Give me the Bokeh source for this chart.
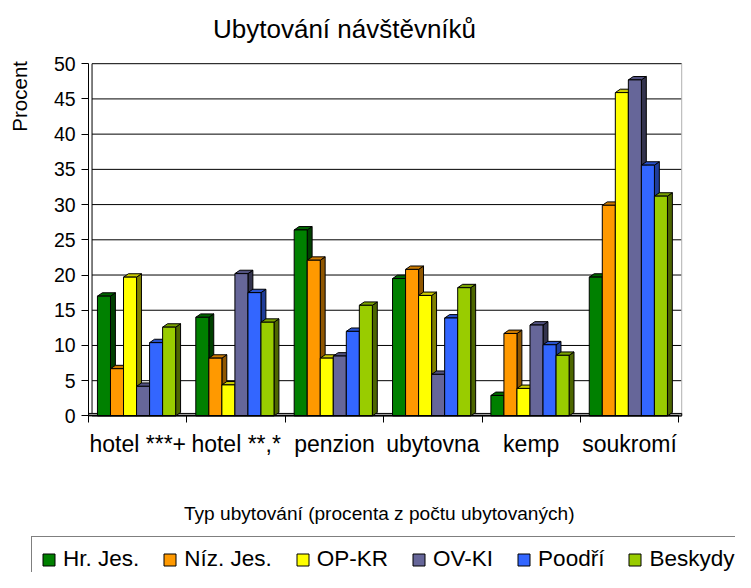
import numpy as np
from bokeh.plotting import figure
from bokeh.models import (Range1d, FixedTicker, Label, Legend, LegendItem, LinearAxis)
from bokeh.embed import file_html
from bokeh.resources import INLINE

categories = ["hotel ***+", "hotel **,*", "penzion", "ubytovna", "kemp", "soukromí"]
series_names = ["Hr. Jes.", "Níz. Jes.", "OP-KR", "OV-KI", "Poodří", "Beskydy"]

hr_jes = [17.0, 14.0, 26.4, 19.5, 2.9, 19.7]
niz_jes = [6.7, 8.2, 22.1, 20.8, 11.7, 29.9]
op_kr = [19.7, 4.4, 8.2, 17.1, 3.9, 45.9]
ov_ki = [4.2, 20.2, 8.5, 5.9, 12.9, 47.7]
poodri = [10.4, 17.5, 12.0, 13.9, 10.1, 35.6]
beskydy = [12.6, 13.3, 15.7, 18.2, 8.6, 31.2]
series_values = [hr_jes, niz_jes, op_kr, ov_ki, poodri, beskydy]

front_colors = ["#008000", "#FF9900", "#FFFF00", "#666699", "#3366FF", "#99CC00"]
top_colors = ["#006600", "#CC7A00", "#CCCC00", "#525280", "#2952CC", "#7AA300"]
side_colors = ["#004000", "#8F5600", "#808000", "#33334D", "#1F3D99", "#4D6600"]

y_ticks = list(range(0, 51, 5))
y_max = 50

FONT = "Liberation Sans"
W, H = 735, 572
PX_X = 98.36   # pixels per category
PX_Y = 7.044   # pixels per percent
LEFT, BASE = 88.1, 415.4  # canvas position of the plot origin

p = figure(width=W, height=H, output_backend="svg", toolbar_location=None, title=None,
           x_range=Range1d(-LEFT / PX_X, (W - LEFT) / PX_X),
           y_range=Range1d(-(H - BASE) / PX_Y, BASE / PX_Y),
           min_border=0, min_border_left=0, min_border_right=0, min_border_top=0, min_border_bottom=0,
           x_axis_location=None, y_axis_location=None, tools="")
p.outline_line_color = None
p.background_fill_color = "white"
p.border_fill_color = "white"
p.grid.visible = False

n = len(categories)
x_end = n + 0.03

# back-wall gridlines and wall edges
p.segment(x0=0.035, y0=y_ticks, x1=x_end, y1=y_ticks, line_color="black", line_width=1)
p.segment(x0=[x_end], y0=[0], x1=[x_end], y1=[y_max], line_color="#b0b0b0", line_width=1)
p.segment(x0=[0.035], y0=[0.35], x1=[0.035], y1=[y_max], line_color="black", line_width=1)

# floor of the 3D plot
p.quad(left=[0.0], right=[x_end], bottom=[0.0], top=[0.35], fill_color="#9a9a9a", line_color="black", line_width=1)

# bars
bar_w = 0.1325
start = 0.09
dx = 0.05
dy = 0.48
legend_items = []
for i, (name, vals) in enumerate(zip(series_names, series_values)):
    xl = np.array([j + start + i * bar_w for j in range(n)])
    xr = xl + bar_w
    v = np.array(vals)
    side_xs = [[a, a + dx, a + dx, a] for a in xr]
    side_ys = [[0, dy, t + dy, t] for t in v]
    top_xs = [[a, a + dx, b + dx, b] for a, b in zip(xl, xr)]
    top_ys = [[t, t + dy, t + dy, t] for t in v]
    p.patches(side_xs, side_ys, fill_color=side_colors[i], line_color="black", line_width=1)
    p.patches(top_xs, top_ys, fill_color=top_colors[i], line_color="black", line_width=1)
    r = p.vbar(x=(xl + xr) / 2, top=v, bottom=0, width=bar_w,
               fill_color=front_colors[i], line_color="black", line_width=1)
    legend_items.append(LegendItem(label=name, renderers=[r]))

# y axis at x = 0
yaxis = LinearAxis(fixed_location=0, bounds=(0, y_max), ticker=FixedTicker(ticks=y_ticks))
yaxis.major_tick_out = 7
yaxis.major_tick_in = 0
yaxis.minor_tick_out = 0
yaxis.minor_tick_in = 0
yaxis.major_label_standoff = 6
yaxis.major_label_text_font = FONT
yaxis.major_label_text_font_size = "19.5px"
yaxis.major_label_text_color = "black"
yaxis.axis_line_color = "black"
yaxis.major_tick_line_color = "black"
p.add_layout(yaxis, "left")

# x axis at y = 0: labels at category centres, tick marks at boundaries
centers = [i + 0.5 for i in range(n)]
xaxis = LinearAxis(fixed_location=0, bounds=(0, n),
                   ticker=FixedTicker(ticks=centers, minor_ticks=list(range(n + 1))))
xaxis.major_label_overrides = {c: lab for c, lab in zip(centers, categories)}
xaxis.major_tick_out = 0
xaxis.major_tick_in = 0
xaxis.minor_tick_out = 7
xaxis.minor_tick_in = 0
xaxis.minor_tick_line_color = "black"
xaxis.major_label_standoff = 8
xaxis.major_label_text_font = FONT
xaxis.major_label_text_font_size = "23px"
xaxis.major_label_text_color = "black"
xaxis.axis_line_color = "black"
p.add_layout(xaxis, "below")

# texts
p.add_layout(Label(x=2.602, y=54.97, text="Ubytování návštěvníků", text_font=FONT,
                   text_font_size="26px", text_align="center", text_baseline="middle", text_color="black"))
p.add_layout(Label(x=-0.707, y=45.37, text="Procent", angle=np.pi / 2, text_font=FONT,
                   text_font_size="20.5px", text_align="center", text_baseline="middle", text_color="black"))
p.add_layout(Label(x=2.955, y=-13.81, text="Typ ubytování (procenta z počtu ubytovaných)", text_font=FONT,
                   text_font_size="19.1px", text_align="center", text_baseline="middle", text_color="black"))

legend = Legend(items=legend_items, orientation="horizontal", location=(31, -10),
                label_text_font=FONT, label_text_font_size="22.5px", label_text_color="black",
                glyph_width=15, glyph_height=15, label_standoff=7, spacing=23,
                padding=9, margin=0, border_line_color="black", border_line_width=1,
                background_fill_color="white", background_fill_alpha=1.0, label_height=20)
p.add_layout(legend, "center")

open("out.html", "w").write(file_html(p, INLINE))
